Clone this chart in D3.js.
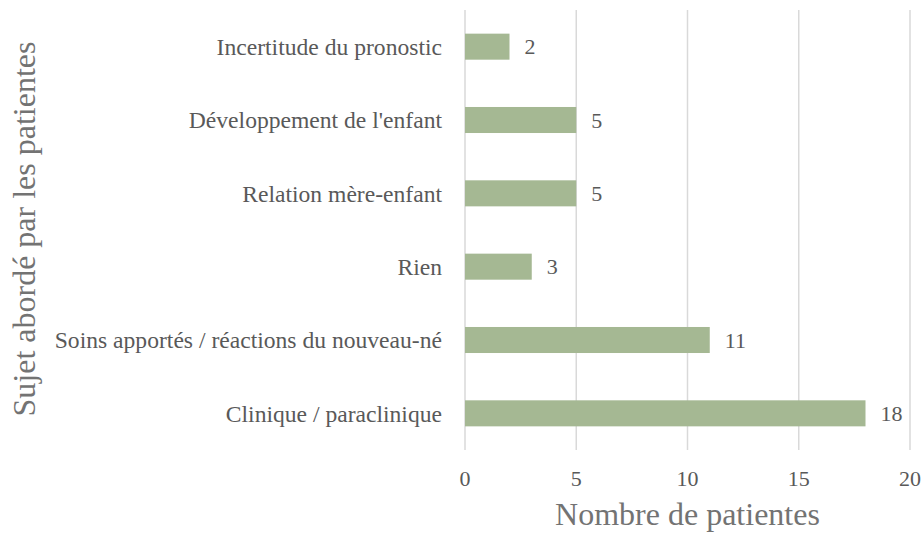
<!DOCTYPE html>
<html lang="fr">
<head>
<meta charset="UTF-8">
<script src="https://d3js.org/d3.v7.min.js"></script>
<style>
  body { margin: 0; background: #fff; }
  text { font-family: "Liberation Serif", "Times New Roman", serif; fill: #595959; }
  .title { fill: #737373; }
  .grid line { stroke: #d9d9d9; stroke-width: 1.5px; }
  .bar { fill: #a5b893; }
</style>
</head>
<body>
<svg id="chart" width="924" height="533"></svg>
<script>
// data
const categories = ["Incertitude du pronostic", "Développement de l'enfant", "Relation mère-enfant",
                    "Rien", "Soins apportés / réactions du nouveau-né", "Clinique / paraclinique"];
const counts = [2, 5, 5, 3, 11, 18];
const xTicks = [0, 5, 10, 15, 20];

const svg = d3.select("#chart");
const margin = {top: 10, right: 14, bottom: 83, left: 465};
const width = 924 - margin.left - margin.right;
const height = 533 - margin.top - margin.bottom;

const g = svg.append("g").attr("transform", `translate(${margin.left},${margin.top})`);

const x = d3.scaleLinear().domain([0, 20]).range([0, width]);
const y = d3.scaleBand().domain(categories).range([0, height]).paddingInner(0.645).paddingOuter(0.3225);

// gridlines
g.append("g").attr("class", "grid")
  .selectAll("line").data(xTicks).join("line")
  .attr("x1", d => x(d)).attr("x2", d => x(d))
  .attr("y1", 0).attr("y2", height);

// bars
g.selectAll("rect.bar").data(categories).join("rect")
  .attr("class", "bar")
  .attr("x", x(0))
  .attr("y", d => y(d))
  .attr("width", (d, i) => x(counts[i]) - x(0))
  .attr("height", y.bandwidth());

// value labels
g.selectAll("text.val").data(categories).join("text")
  .attr("class", "val")
  .attr("x", (d, i) => x(counts[i]) + 15)
  .attr("y", d => y(d) + y.bandwidth() / 2)
  .attr("dy", "0.35em")
  .style("font-size", "22px")
  .text((d, i) => counts[i]);

// category labels
g.selectAll("text.cat").data(categories).join("text")
  .attr("class", "cat")
  .attr("x", -23)
  .attr("y", d => y(d) + y.bandwidth() / 2)
  .attr("dy", "0.35em")
  .attr("text-anchor", "end")
  .style("font-size", "23.6px")
  .text(d => d);

// x tick labels
g.selectAll("text.tick").data(xTicks).join("text")
  .attr("class", "tick")
  .attr("x", d => x(d))
  .attr("y", height + 36)
  .attr("text-anchor", "middle")
  .style("font-size", "22px")
  .text(d => d);

// axis titles
svg.append("text")
  .attr("class", "title")
  .attr("x", margin.left + width / 2)
  .attr("y", 525)
  .attr("text-anchor", "middle")
  .style("font-size", "32px")
  .text("Nombre de patientes");

svg.append("text")
  .attr("class", "title")
  .attr("transform", "translate(35,229) rotate(-90)")
  .attr("text-anchor", "middle")
  .style("font-size", "32px")
  .text("Sujet abordé par les patientes");
</script>
</body>
</html>
